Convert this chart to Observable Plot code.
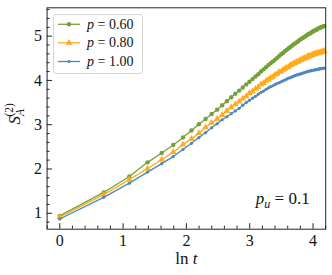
<!DOCTYPE html>
<html><head><meta charset="utf-8">
<script src="https://cdn.jsdelivr.net/npm/d3@7"></script>
<script src="https://cdn.jsdelivr.net/npm/@observablehq/plot@0.6"></script>
<style>
html,body{margin:0;padding:0;background:#fff;}
#chart{width:332px;height:275px;}
</style></head><body><div id="chart"></div>
<script>
// time steps t (x axis shows ln t)
const steps = [1,2,3,4,5,6,7,8,9,10,11,12,13,14,15,16,17,18,19,20,21,22,23,24,25,26,27,28,29,30,31,32,33,34,35,36,37,38,39,40,41,42,43,44,45,46,47,48,49,50,51,52,53,54,55,56,57,58,59,60,61,62,63,64,65];
// S_A^(2) for p = 0.60
const sP060 = [0.94,1.47,1.83,2.15,2.36,2.54,2.71,2.87,3.01,3.13, 3.24,3.34,3.44,3.53,3.62,3.70,3.77,3.84,3.91,3.97, 4.03,4.09,4.14,4.20,4.25,4.30,4.35,4.39,4.43,4.47, 4.51,4.55,4.59,4.62,4.66,4.69,4.72,4.75,4.78,4.81, 4.83,4.86,4.88,4.91,4.93,4.95,4.97,4.99,5.01,5.03, 5.05,5.06,5.08,5.10,5.11,5.13,5.14,5.15,5.17,5.18, 5.19,5.20,5.21,5.22,5.23];
// p = 0.80
const sP080 = [0.91,1.42,1.76,2.01,2.21,2.38,2.55,2.68,2.81,2.94, 3.04,3.13,3.22,3.31,3.39,3.46,3.52,3.59,3.64,3.71, 3.75,3.81,3.85,3.91,3.94,3.99,4.02,4.06,4.08,4.13, 4.15,4.19,4.20,4.24,4.26,4.29,4.30,4.34,4.35,4.38, 4.39,4.42,4.42,4.45,4.46,4.48,4.49,4.51,4.51,4.54, 4.54,4.56,4.56,4.58,4.58,4.60,4.60,4.62,4.61,4.63, 4.63,4.64,4.64,4.66,4.66];
// p = 1.00
const sP100 = [0.87,1.36,1.68,1.93,2.12,2.28,2.44,2.58,2.71,2.82, 2.93,3.02,3.11,3.18,3.25,3.31,3.37,3.44,3.50,3.55, 3.60,3.64,3.69,3.73,3.76,3.80,3.83,3.86,3.88,3.91, 3.93,3.95,3.97,3.99,4.01,4.03,4.05,4.06,4.08,4.09, 4.11,4.12,4.13,4.14,4.15,4.16,4.17,4.18,4.19,4.20, 4.21,4.21,4.22,4.23,4.23,4.24,4.24,4.25,4.25,4.26, 4.26,4.27,4.27,4.27,4.28];

const seriesLabels = ["0.60", "0.80", "1.00"];
const seriesValues = [sP060, sP080, sP100];
const seriesColors = ["#74a03a", "#ffab1c", "#4a87c2"];
const seriesSymbols = ["circle", "triangle", "circle"];
const seriesR = [2.2, 2.5, 1.6];

const xTicks = [0, 1, 2, 3, 4];
const yTicks = [1, 2, 3, 4, 5];
const xMinor = d3.range(-1, 22).map(i => i / 5).filter(v => Math.abs(v - Math.round(v)) > 1e-9);
const yMinor = d3.range(4, 29).map(i => i / 5).filter(v => Math.abs(v - Math.round(v)) > 1e-9);

const rows = [];
seriesLabels.forEach((lab, i) => {
  steps.forEach((t, j) => rows.push({series: lab, lnt: Math.log(t), s: seriesValues[i][j]}));
});

const seriesMarks = [];
seriesLabels.forEach((lab, i) => {
  const d = rows.filter(r => r.series === lab);
  seriesMarks.push(Plot.line(d, {x: "lnt", y: "s", stroke: seriesColors[i], strokeWidth: 1.3}));
  seriesMarks.push(Plot.dot(d, {x: "lnt", y: "s", fill: seriesColors[i], symbol: () => seriesSymbols[i], r: seriesR[i], stroke: "none"}));
});

const tickColor = "#222";
const svg = Plot.plot({
  width: 332, height: 275,
  marginLeft: 46.6, marginRight: 6.8, marginTop: 7.3, marginBottom: 46.3,
  style: {fontFamily: "'Liberation Serif', serif", fontSize: "16px", background: "white", color: "#111"},
  x: {domain: [-0.2, 4.2]},
  y: {domain: [0.64, 5.64]},
  marks: [
    ...seriesMarks,
    Plot.frame({stroke: tickColor, strokeWidth: 1}),
    Plot.axisX(xMinor, {tickSize: -3, tickFormat: () => "", label: null, stroke: tickColor}),
    Plot.axisX(xTicks, {tickSize: -5.5, tickFormat: () => "", label: null, stroke: tickColor}),
    Plot.axisX(xTicks, {tickSize: 0, tickPadding: 5, tickFormat: d => String(d), label: null, fontSize: 16}),
    Plot.axisY(yMinor, {tickSize: -3, tickFormat: () => "", label: null, stroke: tickColor}),
    Plot.axisY(yTicks, {tickSize: -5.5, tickFormat: () => "", label: null, stroke: tickColor}),
    Plot.axisY(yTicks, {tickSize: 0, tickPadding: 5, tickFormat: d => String(d), label: null, fontSize: 16}),
    Plot.text(["ln t"], {frameAnchor: "bottom", dy: 35, lineAnchor: "bottom", fontSize: 17}),
    Plot.text(["S_A(2)"], {frameAnchor: "left", rotate: -90, dx: -27, dy: 6, textAnchor: "start", lineAnchor: "bottom", fontSize: 17}),
    Plot.text(["p_u = 0.1"], {frameAnchor: "bottom-right", dx: -16, dy: -25, textAnchor: "end", lineAnchor: "bottom", fontSize: 17})
  ]
});

const root = d3.select(svg);
root.selectAll("text").each(function() {
  const el = d3.select(this);
  const txt = this.textContent;
  if (txt === "ln t") {
    el.text(null);
    el.append("tspan").text("ln ");
    el.append("tspan").attr("font-style", "italic").text("t");
  } else if (txt === "S_A(2)") {
    el.text(null);
    el.append("tspan").attr("font-style", "italic").text("S");
    el.append("tspan").attr("font-style", "italic").attr("font-size", 11.5).attr("dy", 3.5).text("A");
    el.append("tspan").attr("font-size", 11.5).attr("dx", -7.5).attr("dy", -10.5).text("(2)");
  } else if (txt === "p_u = 0.1") {
    el.text(null);
    el.append("tspan").attr("font-style", "italic").text("p");
    el.append("tspan").attr("font-style", "italic").attr("font-size", 12).attr("dy", 3.5).text("u");
    el.append("tspan").attr("dy", -3.5).text(" = 0.1");
  }
});

// legend
const lg = root.append("g").attr("font-family", "'Liberation Serif', serif").attr("font-size", 14).attr("text-anchor", "start");
lg.append("rect").attr("x", 53.5).attr("y", 14.5).attr("width", 89).attr("height", 59).attr("rx", 3)
  .attr("fill", "white").attr("fill-opacity", 0.8).attr("stroke", "#d4d4d4");
const rowY = [24.3, 42.8, 61.5];
const d3Sym = {circle: d3.symbolCircle, triangle: d3.symbolTriangle};
seriesLabels.forEach((lab, i) => {
  const y = rowY[i];
  lg.append("line").attr("x1", 58).attr("x2", 80).attr("y1", y).attr("y2", y)
    .attr("stroke", seriesColors[i]).attr("stroke-width", 1.3);
  lg.append("path").attr("d", d3.symbol(d3Sym[seriesSymbols[i]], Math.PI * seriesR[i] * seriesR[i])())
    .attr("transform", `translate(69,${y})`).attr("fill", seriesColors[i]);
  const t = lg.append("text").attr("x", 87).attr("y", y).attr("dy", "0.33em").attr("fill", "#111").attr("text-anchor", "start");
  t.append("tspan").attr("font-style", "italic").text("p");
  t.append("tspan").text(" = " + lab);
});

document.getElementById("chart").appendChild(svg);
</script>
</body></html>
